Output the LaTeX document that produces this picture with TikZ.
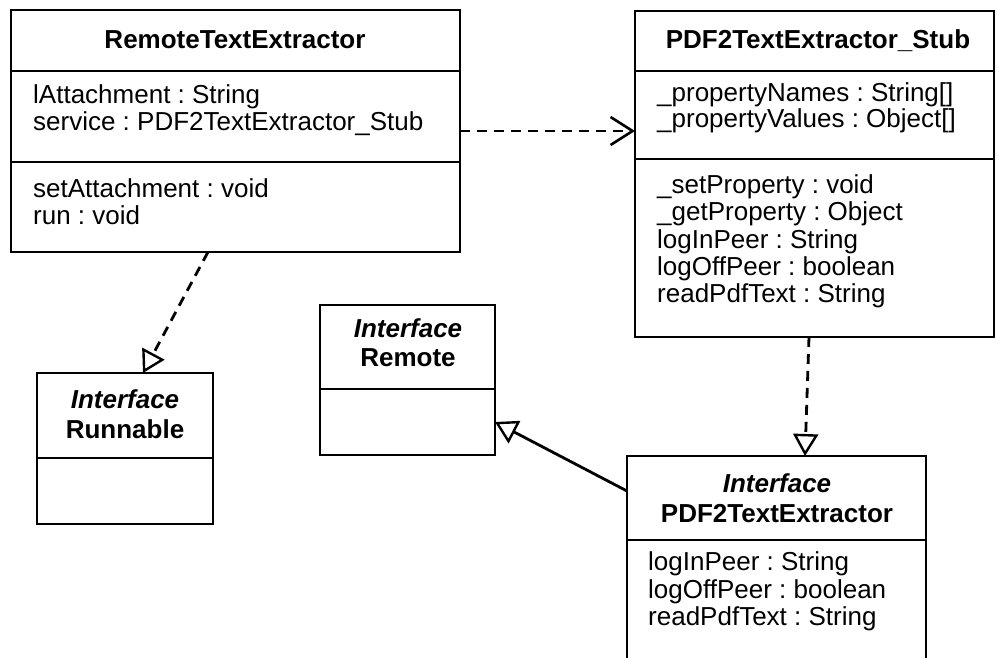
\documentclass[tikz,border=0pt]{standalone}
\usepackage{fontspec}
\setmainfont{Liberation Sans}
\usetikzlibrary{arrows.meta,calc}
\frenchspacing
\begin{document}
\begin{tikzpicture}[x=1pt,y=-1pt,
  box/.style={draw, line width=2.8pt, inner sep=0pt, outer sep=0pt, anchor=north west},
  sepline/.style={line width=2.4pt},
  ttl/.style={font=\fontsize{26}{28}\selectfont\bfseries, anchor=base, inner sep=0pt},
  ital/.style={font=\fontsize{26}{28}\selectfont\bfseries\itshape, anchor=base, inner sep=0pt},
  txt/.style={font=\fontsize{26}{28}\selectfont, anchor=base west, inner sep=0pt},
  dep/.style={line width=2.8pt, dash pattern=on 10pt off 7pt},
  gen/.style={line width=2.8pt},
  tri/.style={-{Triangle[open, length=22pt, width=25pt, line width=2.4pt]}},
  barb/.style={-{Straight Barb[length=22pt, width=28pt, line width=2.6pt]}}
]
\useasboundingbox (0,0) rectangle (997,658);
\clip (0,0) rectangle (997,658);

% RemoteTextExtractor
\node[box, minimum width=449pt, minimum height=242pt] (rte) at (11,10) {};
\draw[sepline] (11,71) -- (460,71);
\draw[sepline] (11,162) -- (460,162);
\node[ttl] (rteT) at (235,49) {RemoteTextExtractor};
\node[txt] (rteA1) at (33,104) {lAttachment : String};
\node[txt] (rteA2) at (33,131) {service : PDF2TextExtractor\_Stub};
\node[txt] (rteM1) at (33,198) {setAttachment : void};
\node[txt] (rteM2) at (33,225) {run : void};

% PDF2TextExtractor_Stub
\node[box, minimum width=359pt, minimum height=326pt] (stub) at (635,11) {};
\draw[sepline] (635,71) -- (994,71);
\draw[sepline] (635,159) -- (994,159);
\node[ttl] (stubT) at (818,49) {PDF2TextExtractor\_Stub};
\node[txt] (stubA1) at (657,102) {\_propertyNames : String[]};
\node[txt] (stubA2) at (657,128) {\_propertyValues : Object[]};
\node[txt] (stubM1) at (657,194) {\_setProperty : void};
\node[txt] (stubM2) at (657,221) {\_getProperty : Object};
\node[txt] (stubM3) at (657,248) {logInPeer : String};
\node[txt] (stubM4) at (657,275) {logOffPeer : boolean};
\node[txt] (stubM5) at (657,302) {readPdfText : String};

% Interface Runnable
\node[box, minimum width=176pt, minimum height=151pt] (runb) at (37,373) {};
\draw[sepline] (37,458) -- (213,458);
\node[ital] (runI) at (125,408) {Interface};
\node[ttl] (runT) at (125,438) {Runnable};

% Interface Remote
\node[box, minimum width=175pt, minimum height=150pt] (remote) at (320,305) {};
\draw[sepline] (320,389) -- (495,389);
\node[ital] (remI) at (408,337) {Interface};
\node[ttl] (remT) at (408,366) {Remote};

% Interface PDF2TextExtractor
\node[box, minimum width=299pt, minimum height=230pt] (pdf) at (627,456) {};
\draw[sepline] (627,540) -- (926,540);
\node[ital] (pdfI) at (777,492) {Interface};
\node[ttl] (pdfT) at (777,522) {PDF2TextExtractor};
\node[txt] (pdfA1) at (648,570) {logInPeer : String};
\node[txt] (pdfA2) at (648,598) {logOffPeer : boolean};
\node[txt] (pdfA3) at (648,625) {readPdfText : String};

% connectors
\draw[dep, barb] ($(rte.north east)+(0,121)$) -- ($(stub.north west)+(0,120)$);
\draw[dep, tri] ($(rte.south west)+(197,0)$) -- ($(runb.north west)+(106,0)$);
\draw[dep, tri] ($(stub.south west)+(174,0)$) -- ($(pdf.north west)+(178,0)$);
\draw[gen, tri] ($(pdf.north west)+(0,35)$) -- ($(remote.north east)+(0,117)$);
\end{tikzpicture}
\end{document}
